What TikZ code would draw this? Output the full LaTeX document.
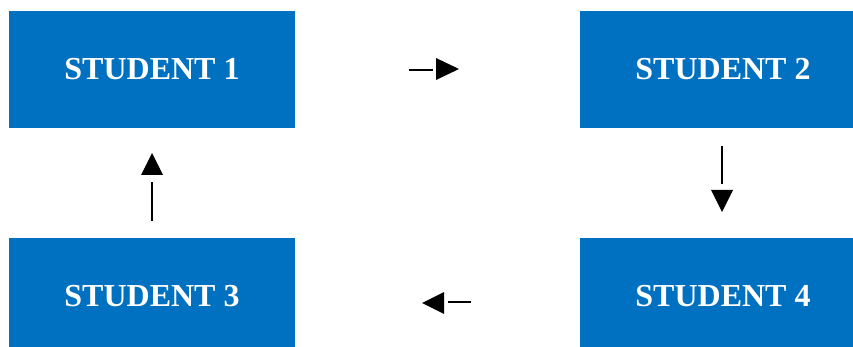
\documentclass[tikz,border=0pt]{standalone}
\usepackage{fontspec}
\setmainfont{Liberation Serif}
\definecolor{boxblue}{HTML}{0070C0}
\begin{document}
\begin{tikzpicture}[x=1pt,y=-1pt,
  studentbox/.style={fill=boxblue, text=white, inner sep=0pt, minimum width=286pt, minimum height=117pt,
    font=\fontsize{32}{36}\selectfont\bfseries},
  shaft/.style={line width=2.7pt},
  tip/.style={fill=black}]
\useasboundingbox (0,0) rectangle (853,347);
\begin{scope}
\clip (0,0) rectangle (853,347);
\node[studentbox] (s1) at (152,69.5) {STUDENT 1};
\node[studentbox] (s2) at (723,69.5) {STUDENT 2};
\node[studentbox] (s3) at (152,296.5) {STUDENT 3};
\node[studentbox] (s4) at (723,296.5) {STUDENT 4};
\end{scope}
% right arrow
\coordinate (r1) at (409,70);
\coordinate (r2) at (433,70);
\draw[shaft] (r1) -- (r2);
\fill[tip] (436,58) -- (459,69) -- (436,80) -- cycle;
% down arrow
\coordinate (d1) at (722,146);
\coordinate (d2) at (722,184);
\draw[shaft] (d1) -- (d2);
\fill[tip] (711,190) -- (733,190) -- (722,212) -- cycle;
% left arrow
\coordinate (l1) at (471,302);
\coordinate (l2) at (448,302);
\draw[shaft] (l1) -- (l2);
\fill[tip] (444,292) -- (422,303) -- (444,314) -- cycle;
% up arrow
\coordinate (u1) at (152,221);
\coordinate (u2) at (152,182);
\draw[shaft] (u1) -- (u2);
\fill[tip] (141,175) -- (163,175) -- (152,153) -- cycle;
\end{tikzpicture}
\end{document}
